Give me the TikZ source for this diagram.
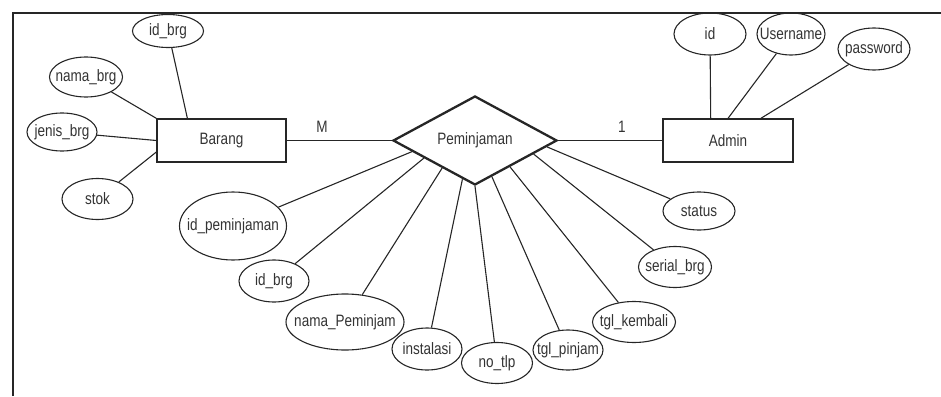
\documentclass[tikz,border=0pt]{standalone}
\usepackage{fontspec}
\setmainfont{Liberation Sans}[FakeStretch=0.82]
\usetikzlibrary{shapes.geometric}
\definecolor{txtgray}{HTML}{333333}
\definecolor{linegray}{HTML}{262626}

\begin{document}
\begin{tikzpicture}[x=1pt, y=-1pt, line width=1.1pt, draw=linegray,
    entity/.style={draw, rectangle, line width=1.3pt, minimum width=129pt, minimum height=43pt},
    rel/.style={draw, diamond, line width=2.3pt, aspect=1.84, inner sep=0pt, minimum width=164pt, minimum height=89pt},
    attr/.style={draw, ellipse, inner sep=0pt,
        execute at begin node={\hbox to 0pt\bgroup\hss},
        execute at end node={\hss\egroup}}]
	    \tikzstyle{every node}+=[font=\fontsize{16.5}{18}\selectfont, text=txtgray]
	    \useasboundingbox (0,0) rectangle (941,396);
	    \draw [line width=1.4pt] (13,396) -- (13,13) -- (941,13);
	    % entities and relation
	    \node [entity] (barang) at (221.5,140.5) {Barang};
	    \node [entity, minimum width=130pt] (admin) at (728,140.5) {Admin};
	    \node [rel] (pinjam) at (475,140.5) {Peminjaman};
	    \node (mlabel) at (322,127) {M};
	    \node (onelabel) at (622,127) {1};
	    % attributes of Barang
	    \node [attr, minimum width=71pt, minimum height=33pt] (idbrg) at (168,31) {id\_brg};
	    \node [attr, minimum width=73pt, minimum height=40pt] (namabrg) at (86,77) {nama\_brg};
	    \node [attr, minimum width=70pt, minimum height=38pt] (jenisbrg) at (62,132) {jenis\_brg};
	    \node [attr, minimum width=71pt, minimum height=41pt] (stok) at (97.5,199) {stok};
	    % attributes of Admin
	    \node [attr, minimum width=72pt, minimum height=42pt] (idadm) at (710,34) {id};
	    \node [attr, minimum width=68pt, minimum height=42pt] (username) at (791,34) {Username};
	    \node [attr, minimum width=72pt, minimum height=42pt] (password) at (874,49) {password};
	    % attributes of Peminjaman
	    \node [attr, minimum width=107pt, minimum height=68pt] (idpem) at (233,226) {id\_peminjaman};
	    \node [attr, minimum width=70pt, minimum height=42pt] (idbrgp) at (274,281) {id\_brg};
	    \node [attr, minimum width=118pt, minimum height=56pt] (namapem) at (345,322) {nama\_Peminjam};
	    \node [attr, minimum width=70pt, minimum height=42pt] (instalasi) at (427,349) {instalasi};
	    \node [attr, minimum width=71pt, minimum height=41pt] (notlp) at (497,363) {no\_tlp};
	    \node [attr, minimum width=70pt, minimum height=40pt] (tglpinjam) at (568,350) {tgl\_pinjam};
	    \node [attr, minimum width=83pt, minimum height=41pt] (tglkembali) at (634,322) {tgl\_kembali};
	    \node [attr, minimum width=73pt, minimum height=41pt] (serialbrg) at (675,267) {serial\_brg};
	    \node [attr, minimum width=72pt, minimum height=38pt] (status) at (699,211) {status};
	    % connectors
	    \draw (barang) -- (pinjam);
	    \draw (pinjam) -- (admin);
	    \draw (idbrg) -- (barang.147.5);
	    \draw (namabrg) -- (barang.north west);
	    \draw (jenisbrg) -- (barang.west);
	    \draw (stok) -- (barang.190);
	    \draw (idadm) -- (admin.128);
	    \draw (username) -- (admin.north);
	    \draw (password) -- (admin.34);
	    \draw (idpem) -- (pinjam.-170);
	    \draw (idbrgp) -- (pinjam.-161);
	    \draw (namapem) -- (pinjam.-140);
	    \draw (instalasi) -- (pinjam.-108);
	    \draw (notlp) -- (pinjam.-90);
	    \draw (tglpinjam) -- (pinjam.-65);
	    \draw (tglkembali) -- (pinjam.-37);
	    \draw (serialbrg) -- (pinjam.-13.6);
	    \draw (status) -- (pinjam.-5.2);
    \end{tikzpicture}
\end{document}
